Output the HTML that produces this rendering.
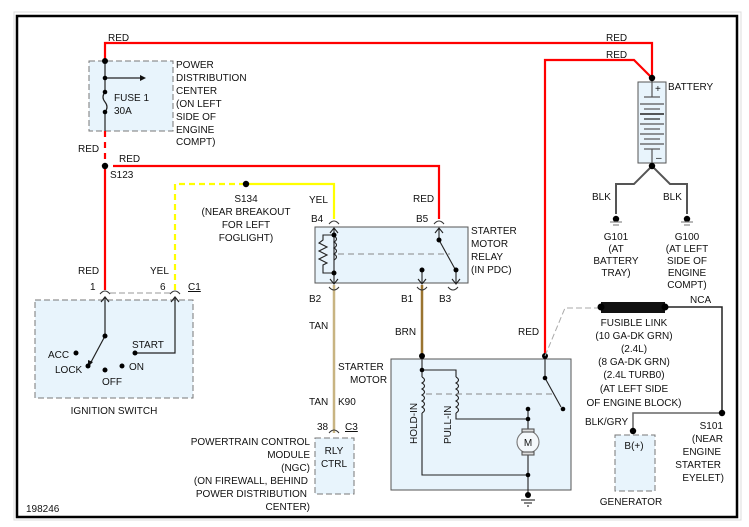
<!DOCTYPE html>
<html><head><meta charset="utf-8"><style>
html,body{margin:0;padding:0;background:#fff;}
svg{display:block;}
text{font-family:"Liberation Sans",sans-serif;font-size:10px;fill:#111;}
</style></head><body>
<svg width="749" height="527" viewBox="0 0 749 527" xmlns="http://www.w3.org/2000/svg">
<rect x="0" y="0" width="749" height="527" fill="#fff"/>
<rect x="14" y="12" width="727" height="508" fill="none" stroke="#ddd" stroke-width="1"/>
<rect x="17" y="16" width="720" height="501" fill="none" stroke="#000" stroke-width="2.5"/>

<!-- boxes -->
<rect x="89" y="61" width="84" height="70" fill="#e8f4fc" stroke="#777" stroke-dasharray="6,3"/>
<rect x="315" y="227" width="153" height="56" fill="#e8f4fc" stroke="#555"/>
<rect x="35" y="300" width="158" height="98" fill="#e8f4fc" stroke="#777" stroke-dasharray="6,3"/>
<rect x="391" y="359" width="180" height="131" fill="#e8f4fc" stroke="#555"/>
<rect x="315" y="438" width="39" height="56" fill="#e8f4fc" stroke="#777" stroke-dasharray="6,3"/>
<rect x="615" y="435" width="40" height="56" fill="#e8f4fc" stroke="#777" stroke-dasharray="6,3"/>
<rect x="638" y="82" width="28" height="81" fill="#e8f4fc" stroke="#555"/>

<!-- red wires -->
<g stroke="#f00" stroke-width="2.2" fill="none">
<polyline points="105,61 105,43 652,43 652,78"/>
<polyline points="545,356 545,60 634,60 652,78"/>
<line x1="105" y1="131" x2="105" y2="166" stroke-dasharray="6,5"/>
<line x1="105" y1="166" x2="105" y2="290"/>
<polyline points="113,166 439,166 439,219"/>
</g>
<!-- yellow -->
<polyline points="175,290 175,184 246,184" fill="none" stroke="#ff0" stroke-width="2.2" stroke-dasharray="6,4"/>
<polyline points="246,184 334,184 334,219" fill="none" stroke="#ff0" stroke-width="2.2"/>
<!-- tan / brown -->
<line x1="334" y1="285" x2="334" y2="433" stroke="#c8b482" stroke-width="2.5"/>
<line x1="422" y1="285" x2="422" y2="356" stroke="#9a7430" stroke-width="2.5"/>
<!-- connector dashed gray between 1 and 6 -->
<line x1="110" y1="293" x2="170" y2="293" stroke="#bbb" stroke-width="1.5" stroke-dasharray="6,3"/>

<!-- PDC internals -->
<g stroke="#222" fill="none" stroke-width="1.2">
<line x1="105" y1="61" x2="105" y2="92"/>
<path d="M105,92 q-4,5 0,10 q4,5 0,10"/>
<line x1="105" y1="112" x2="105" y2="131"/>
<line x1="105" y1="78" x2="142" y2="78"/>
</g>
<polygon points="146,78 140,75 140,81" fill="#111"/>
<g fill="#000"><circle cx="105" cy="61" r="3"/><circle cx="105" cy="78" r="2.3"/><circle cx="105" cy="92" r="2.3"/><circle cx="105" cy="112" r="2.3"/><circle cx="105" cy="166" r="3.2"/><circle cx="246" cy="184" r="3.2"/></g>

<!-- connectors arcs -->
<g stroke="#333" fill="none" stroke-width="1">
<path d="M100,294 q5,-6 10,0"/><path d="M170,294 q5,-6 10,0"/>
<path d="M329,224 q5,-6 10,0"/><path d="M434,224 q5,-6 10,0"/>
<path d="M329,287 q5,6 10,0"/><path d="M417,287 q5,6 10,0"/><path d="M448,287 q5,6 10,0"/>
<path d="M329,433 q5,-6 10,0"/>
</g>

<!-- ignition switch -->
<g stroke="#222" fill="none" stroke-width="1.2">
<line x1="105" y1="297" x2="105" y2="336"/><polyline points="101,302 105,297 109,302"/>
<line x1="105" y1="336" x2="90" y2="364"/>
<polyline points="135,353 175,353 175,297"/><polyline points="171,302 175,297 179,302"/>
</g>
<polygon points="88,367 88,360 93,362" fill="#111"/>
<g fill="#000"><circle cx="105" cy="336" r="2.5"/><circle cx="88" cy="366" r="2.5"/><circle cx="76" cy="353" r="2.5"/><circle cx="105" cy="370" r="2.5"/><circle cx="122" cy="366" r="2.5"/><circle cx="135" cy="353" r="2.5"/></g>

<!-- relay -->
<g stroke="#222" fill="none" stroke-width="1.1">
<line x1="334" y1="228" x2="334" y2="274"/>
<polyline points="330,233 334,228 338,233"/>
<polyline points="330,279 334,284 338,279"/>
<line x1="334" y1="274" x2="334" y2="284"/>
<path d="M334,236 q5,3 0,6 q5,3 0,6 q5,3 0,6 q5,3 0,6"/>
<polyline points="334,235 323,235 323,240 319,243 327,247 319,251 327,255 319,259 327,263 323,265 323,273 334,273"/>
<line x1="439" y1="228" x2="439" y2="240"/><polyline points="435,233 439,228 443,233"/>
<line x1="439" y1="240" x2="455" y2="269"/>
<line x1="422" y1="270" x2="422" y2="284"/><polyline points="418,279 422,284 426,279"/>
<line x1="456" y1="270" x2="456" y2="284"/><polyline points="452,279 456,284 460,279"/>
</g>
<line x1="338" y1="254" x2="450" y2="254" stroke="#888" stroke-dasharray="6,4"/>
<g fill="#000"><circle cx="334" cy="235" r="2.5"/><circle cx="334" cy="273" r="2.5"/><circle cx="439" cy="240" r="2.5"/><circle cx="422" cy="270" r="2.5"/><circle cx="456" cy="270" r="2.5"/></g>

<!-- starter motor -->
<g stroke="#222" fill="none" stroke-width="1.1">
<line x1="422" y1="359" x2="422" y2="370"/>
<polyline points="422,370 456,370 456,377"/>
<path d="M456,377 q5,3 0,6 q5,3 0,6 q5,3 0,6 q5,3 0,6 q5,3 0,6 q5,3 0,6"/>
<polyline points="456,413 456,419 528,419"/>
<line x1="422" y1="370" x2="422" y2="377"/>
<path d="M422,377 q5,3 0,6 q5,3 0,6 q5,3 0,6 q5,3 0,6 q5,3 0,6 q5,3 0,6"/>
<polyline points="422,413 422,475 528,475"/>
<line x1="528" y1="409" x2="528" y2="431"/>
<line x1="528" y1="454" x2="528" y2="496"/>
<circle cx="528" cy="442" r="11" fill="#f4f8fb" stroke="#777"/>
<rect x="522" y="429" width="12" height="3" fill="#ddd" stroke="#555"/>
<rect x="522" y="452" width="12" height="3" fill="#ddd" stroke="#555"/>
<line x1="545" y1="359" x2="545" y2="378"/>
<line x1="545" y1="378" x2="561" y2="407"/>
<line x1="521" y1="500" x2="535" y2="500"/><line x1="524" y1="503" x2="532" y2="503"/><line x1="527" y1="506" x2="529" y2="506"/>
</g>
<line x1="426" y1="394" x2="552" y2="394" stroke="#888" stroke-dasharray="6,4"/>
<g fill="#000"><circle cx="422" cy="356" r="3"/><circle cx="545" cy="356" r="3"/><circle cx="422" cy="370" r="2.3"/><circle cx="528" cy="409" r="2.3"/><circle cx="528" cy="419" r="2.3"/><circle cx="528" cy="475" r="2.3"/><circle cx="528" cy="495" r="3"/><circle cx="545" cy="378" r="2.3"/><circle cx="563" cy="409" r="2.3"/></g>
<text x="528" y="446" text-anchor="middle" font-size="11">M</text>
<text transform="translate(417,444) rotate(-90)" font-size="10">HOLD-IN</text>
<text transform="translate(451,444) rotate(-90)" font-size="10">PULL-IN</text>

<!-- fusible link -->
<polyline points="545,356 565,308 601,308" fill="none" stroke="#aaa" stroke-dasharray="6,3"/>
<rect x="601" y="302" width="64" height="11" fill="#111"/>
<polyline points="665,307 722,307 722,413" fill="none" stroke="#222" stroke-width="1.5"/>
<polyline points="722,413 633,413 633,431" fill="none" stroke="#666" stroke-width="1.5"/>
<g fill="#000"><circle cx="601" cy="307" r="3.5"/><circle cx="665" cy="307" r="3.5"/><circle cx="722" cy="413" r="3.2"/><circle cx="633" cy="431" r="3.2"/></g>

<!-- battery -->
<g stroke="#555" stroke-width="1.2">
<line x1="652" y1="78" x2="652" y2="97"/>
<line x1="644" y1="97" x2="660" y2="97"/><line x1="640" y1="104" x2="664" y2="104"/>
<line x1="644" y1="109" x2="660" y2="109"/><line x1="640" y1="114" x2="664" y2="114" stroke="#222" stroke-width="1.6"/>
<line x1="644" y1="119" x2="660" y2="119" stroke="#222"/><line x1="640" y1="124" x2="664" y2="124"/>
<line x1="644" y1="129" x2="660" y2="129"/><line x1="640" y1="134" x2="664" y2="134"/>
<line x1="644" y1="139" x2="660" y2="139"/><line x1="640" y1="144" x2="664" y2="144"/>
<line x1="644" y1="149" x2="660" y2="149"/><line x1="652" y1="149" x2="652" y2="166"/>
</g>
<text x="655" y="92" font-size="9">+</text><text x="656" y="161" font-size="9">–</text>
<polyline points="616,214 616,184 634,184 652,166 670,184 687,184 687,214" fill="none" stroke="#555" stroke-width="2"/>
<g fill="#000"><circle cx="652" cy="78" r="3.2"/><circle cx="652" cy="166" r="3.2"/><circle cx="616" cy="219" r="3.2"/><circle cx="687" cy="219" r="3.2"/></g>
<g stroke="#888" stroke-width="1.2"><line x1="610" y1="222" x2="622" y2="222"/><line x1="613" y1="225" x2="619" y2="225"/><line x1="681" y1="222" x2="693" y2="222"/><line x1="684" y1="225" x2="690" y2="225"/></g>

<!-- labels -->
<text x="108" y="41">RED</text>
<text x="606" y="41">RED</text>
<text x="606" y="58">RED</text>
<text x="176" y="68">POWER</text><text x="176" y="81">DISTRIBUTION</text><text x="176" y="94">CENTER</text><text x="176" y="107">(ON LEFT</text><text x="176" y="120">SIDE OF</text><text x="176" y="133">ENGINE</text><text x="176" y="145">COMPT)</text>
<text x="114" y="101">FUSE 1</text><text x="114" y="114">30A</text>
<text x="78" y="152">RED</text>
<text x="119" y="162">RED</text>
<text x="110" y="178">S123</text>
<text x="246" y="202" text-anchor="middle">S134</text>
<text x="246" y="215" text-anchor="middle">(NEAR BREAKOUT</text>
<text x="246" y="228" text-anchor="middle">FOR LEFT</text>
<text x="246" y="241" text-anchor="middle">FOGLIGHT)</text>
<text x="309" y="203">YEL</text><text x="311" y="222">B4</text>
<text x="413" y="202">RED</text><text x="416" y="222">B5</text>
<text x="471" y="234">STARTER</text><text x="471" y="247">MOTOR</text><text x="471" y="260">RELAY</text><text x="471" y="273">(IN PDC)</text>
<text x="668" y="90">BATTERY</text>
<text x="592" y="200">BLK</text><text x="663" y="200">BLK</text>
<text x="616" y="240" text-anchor="middle">G101</text><text x="616" y="252" text-anchor="middle">(AT</text><text x="616" y="264" text-anchor="middle">BATTERY</text><text x="616" y="276" text-anchor="middle">TRAY)</text>
<text x="687" y="240" text-anchor="middle">G100</text><text x="687" y="252" text-anchor="middle">(AT LEFT</text><text x="687" y="264" text-anchor="middle">SIDE OF</text><text x="687" y="276" text-anchor="middle">ENGINE</text><text x="687" y="288" text-anchor="middle">COMPT)</text>
<text x="78" y="274">RED</text><text x="150" y="274">YEL</text>
<text x="90" y="290">1</text><text x="160" y="290">6</text><text x="188" y="290" text-decoration="underline">C1</text>
<text x="48" y="358">ACC</text><text x="55" y="373">LOCK</text><text x="102" y="385">OFF</text><text x="129" y="370">ON</text><text x="132" y="348">START</text>
<text x="114" y="414" text-anchor="middle">IGNITION SWITCH</text>
<text x="309" y="302">B2</text><text x="401" y="302">B1</text><text x="439" y="302">B3</text>
<text x="309" y="329">TAN</text><text x="395" y="335">BRN</text><text x="518" y="335">RED</text>
<text x="338" y="370">STARTER</text><text x="350" y="383">MOTOR</text>
<text x="309" y="405">TAN</text><text x="338" y="405">K90</text>
<text x="317" y="430">38</text><text x="345" y="430" text-decoration="underline">C3</text>
<text x="334" y="454" text-anchor="middle">RLY</text><text x="334" y="467" text-anchor="middle">CTRL</text>
<text x="310" y="445" text-anchor="end">POWERTRAIN CONTROL</text><text x="310" y="458" text-anchor="end">MODULE</text><text x="310" y="471" text-anchor="end">(NGC)</text><text x="308" y="484" text-anchor="end">(ON FIREWALL, BEHIND</text><text x="307" y="497" text-anchor="end">POWER DISTRIBUTION</text><text x="310" y="510" text-anchor="end">CENTER)</text>
<text x="26" y="512">198246</text>
<text x="690" y="303">NCA</text>
<text x="634" y="326" text-anchor="middle">FUSIBLE LINK</text><text x="634" y="339" text-anchor="middle">(10 GA-DK GRN)</text><text x="634" y="352" text-anchor="middle">(2.4L)</text><text x="634" y="365" text-anchor="middle">(8 GA-DK GRN)</text><text x="634" y="378" text-anchor="middle">(2.4L TURB0)</text><text x="634" y="392" text-anchor="middle">(AT LEFT SIDE</text><text x="634" y="406" text-anchor="middle">OF ENGINE BLOCK)</text>
<text x="585" y="425">BLK/GRY</text>
<text x="634" y="449" text-anchor="middle">B(+)</text>
<text x="631" y="505" text-anchor="middle">GENERATOR</text>
<text x="723" y="429" text-anchor="end">S101</text><text x="723" y="442" text-anchor="end">(NEAR</text><text x="721" y="455" text-anchor="end">ENGINE</text><text x="721" y="468" text-anchor="end">STARTER</text><text x="724" y="481" text-anchor="end">EYELET)</text>
</svg>
</body></html>
